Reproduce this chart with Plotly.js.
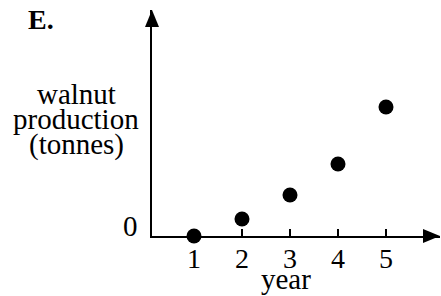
<!DOCTYPE html>
<html><head><meta charset="utf-8">
<script src="https://cdn.plot.ly/plotly-3.0.1.min.js"></script>
<style>html,body{margin:0;padding:0;background:#fff}#chart{width:441px;height:296px}</style>
</head><body><div id="chart"></div>
<script>
const years = [1, 2, 3, 4, 5];
const production = [0, 1.7, 4.1, 7.2, 12.9];
const tickVals = [1, 2, 3, 4, 5];
const tickText = ['1', '2', '3', '4', '5'];
const xTitle = 'year';
const yTitleLines = ['walnut', 'production', '(tonnes)'];
const yZeroLabel = '0';
const panelLabel = 'E.';

const serif = 'Liberation Serif, Times New Roman, serif';
const fs = 29;
const trace = {
  x: years, y: production, type: 'scatter', mode: 'markers',
  marker: {color: '#000', size: 15}, cliponaxis: false, hoverinfo: 'skip'
};
const annotations = [
  {text: panelLabel, xref: 'paper', yref: 'paper', x: 0, y: 1, xshift: -126, yshift: 8,
   xanchor: 'left', yanchor: 'top', showarrow: false,
   font: {family: serif, size: 28, color: '#000', weight: 'bold'}},
  {text: yZeroLabel, xref: 'paper', yref: 'y', x: 0, y: 0, xshift: -22, yshift: 10,
   xanchor: 'center', yanchor: 'middle', showarrow: false,
   font: {family: serif, size: fs, color: '#000'}},
  {text: xTitle, xref: 'x', yref: 'paper', x: 3, y: 0, xshift: -4, yshift: -43,
   xanchor: 'center', yanchor: 'middle', showarrow: false,
   font: {family: serif, size: fs, color: '#000'}}
];
yTitleLines.forEach((t, i) => annotations.push({
  text: t, xref: 'paper', yref: 'paper', x: 0, y: 1, xshift: -76, yshift: -84 - 25 * i,
  xanchor: 'center', yanchor: 'middle', showarrow: false,
  font: {family: serif, size: fs, color: '#000'}
}));
const layout = {
  width: 441, height: 296,
  margin: {l: 152, r: 1, t: 10, b: 60},
  paper_bgcolor: '#fff', plot_bgcolor: '#fff',
  showlegend: false,
  font: {family: serif, color: '#000', size: fs},
  xaxis: {
    range: [0.125, 6.125], showgrid: false, zeroline: false,
    showline: true, linecolor: '#000', linewidth: 2,
    tickmode: 'array', tickvals: tickVals, ticktext: tickText,
    ticks: 'inside', ticklen: 7, tickwidth: 2, tickcolor: '#000',
    tickfont: {family: serif, size: 28, color: '#000'},
    ticklabelstandoff: -4
  },
  yaxis: {
    range: [0, 22.6], showgrid: false, zeroline: false,
    showline: true, linecolor: '#000', linewidth: 2,
    showticklabels: false, ticks: ''
  },
  shapes: [
    {type: 'path', xref: 'paper', yref: 'paper', xsizemode: 'pixel', ysizemode: 'pixel',
     xanchor: 1, yanchor: 0, path: 'M0,0 L-17,7 L-17,-7 Z',
     fillcolor: '#000', line: {width: 0}},
    {type: 'path', xref: 'paper', yref: 'paper', xsizemode: 'pixel', ysizemode: 'pixel',
     xanchor: 0, yanchor: 1, path: 'M0,0 L-7,-17 L7,-17 Z',
     fillcolor: '#000', line: {width: 0}}
  ],
  annotations: annotations
};
Plotly.newPlot('chart', [trace], layout, {staticPlot: true, displayModeBar: false});
</script></body></html>
